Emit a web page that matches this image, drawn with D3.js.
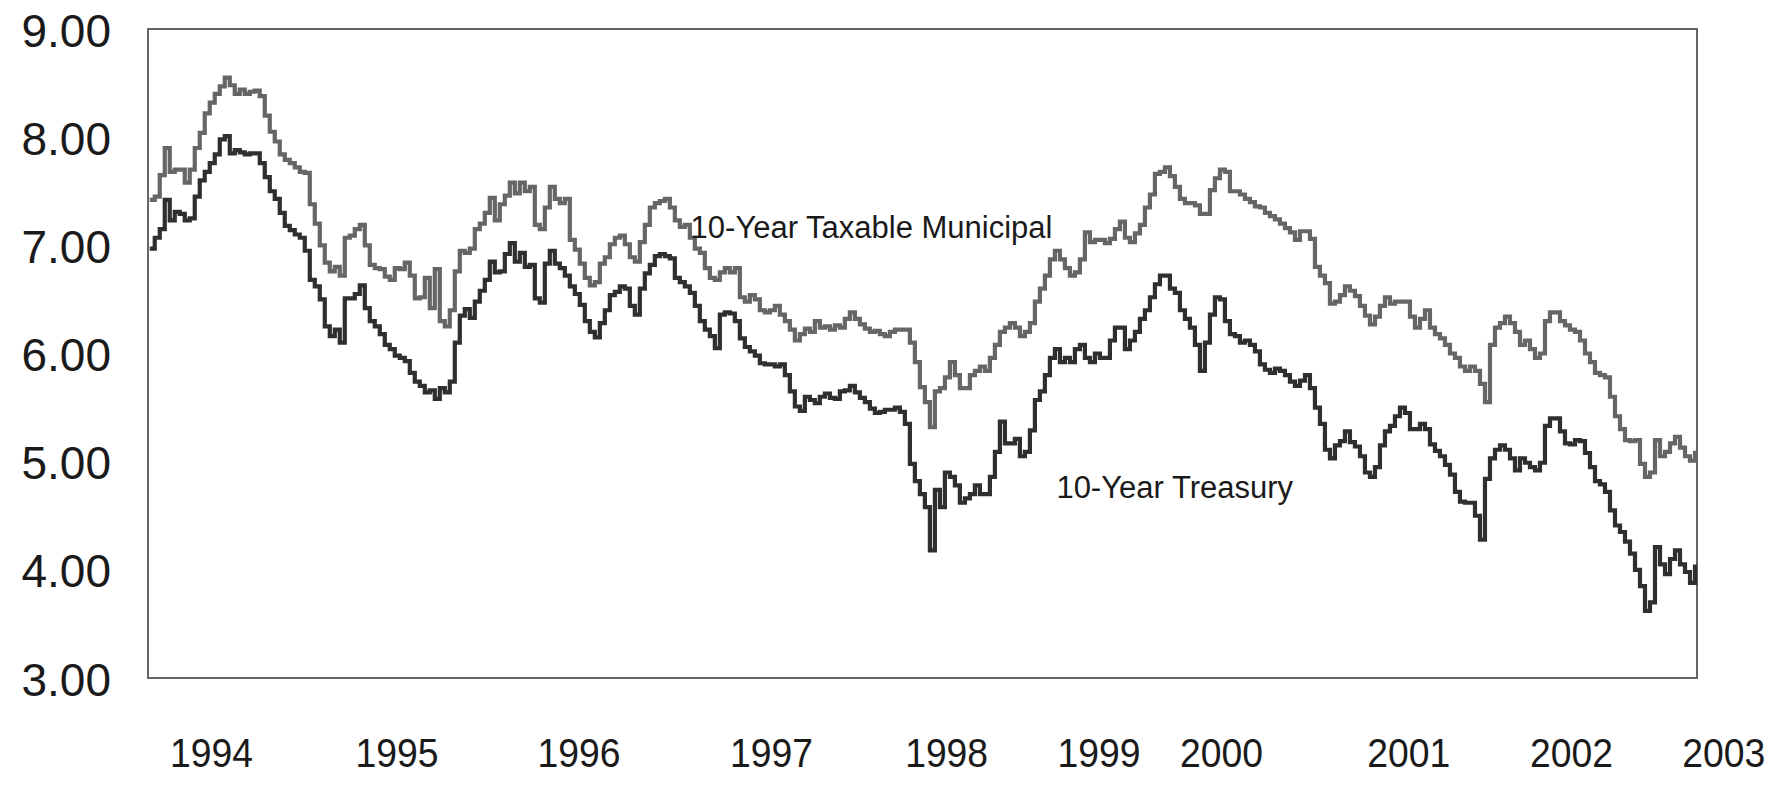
<!DOCTYPE html>
<html>
<head>
<meta charset="utf-8">
<script src="https://cdn.jsdelivr.net/npm/d3@7"></script>
<style>
  html, body { margin: 0; padding: 0; background: #fff; }
  svg { display: block; font-family: "Liberation Sans", Arial, sans-serif; }
</style>
</head>
<body>
<div id="chart"></div>
<script>
// samples run every 1/35 of a year starting from startYear
const startYear = 1994.30
const stepYears = 1 / 35

const muni = [
  7.42, 7.45, 7.65, 7.90, 7.68, 7.70, 7.70, 7.58, 7.70, 7.90,
  8.04, 8.22, 8.32, 8.40, 8.47, 8.55, 8.48, 8.40, 8.44, 8.40,
  8.42, 8.43, 8.38, 8.20, 8.05, 7.96, 7.84, 7.79, 7.76, 7.72,
  7.68, 7.67, 7.38, 7.20, 7.00, 6.84, 6.76, 6.80, 6.72, 7.07,
  7.09, 7.15, 7.19, 7.00, 6.82, 6.79, 6.78, 6.71, 6.68, 6.79,
  6.78, 6.84, 6.72, 6.51, 6.52, 6.70, 6.42, 6.78, 6.30, 6.25,
  6.40, 6.76, 6.95, 6.93, 6.97, 7.15, 7.20, 7.30, 7.44, 7.23,
  7.38, 7.46, 7.58, 7.48, 7.58, 7.50, 7.54, 7.19, 7.15,
  7.35, 7.54, 7.43, 7.39, 7.43, 7.05, 6.96, 6.83, 6.70, 6.63,
  6.66, 6.83, 6.89, 7.01, 7.07, 7.09, 7.01, 6.89, 6.85, 7.03,
  7.19, 7.35, 7.39, 7.41, 7.43, 7.35, 7.23, 7.17, 7.19, 7.07,
  6.97, 6.93, 6.79, 6.70, 6.68, 6.75, 6.79, 6.75, 6.79, 6.52,
  6.48, 6.54, 6.50, 6.40, 6.38, 6.40, 6.44, 6.36, 6.30, 6.22,
  6.12, 6.18, 6.23, 6.20, 6.30, 6.24, 6.25, 6.22, 6.26, 6.24,
  6.32, 6.38, 6.32, 6.27, 6.23, 6.20, 6.21, 6.18, 6.16, 6.20,
  6.22, 6.22, 6.22, 6.10, 5.92, 5.69, 5.55, 5.32,
  5.65, 5.68, 5.78, 5.92, 5.80, 5.68, 5.68, 5.80, 5.84, 5.88,
  5.84, 5.96, 6.08, 6.20, 6.24, 6.28, 6.24, 6.16, 6.20, 6.28,
  6.48, 6.60, 6.72, 6.87, 6.95, 6.87, 6.79, 6.72, 6.75, 6.87,
  7.12, 7.03, 7.05, 7.05, 7.02, 7.06, 7.15, 7.22, 7.07, 7.03,
  7.11, 7.19, 7.35, 7.47, 7.66, 7.68, 7.72, 7.64, 7.54, 7.43,
  7.39, 7.39, 7.37, 7.29, 7.29, 7.51, 7.62, 7.70, 7.68, 7.50,
  7.50, 7.47, 7.43, 7.40, 7.36, 7.35, 7.30, 7.27, 7.24, 7.20,
  7.16, 7.12, 7.05, 7.13, 7.13, 7.06, 6.80, 6.72,
  6.65, 6.46, 6.48, 6.54, 6.62, 6.58, 6.53, 6.44, 6.35, 6.27,
  6.34, 6.44, 6.52, 6.46, 6.48, 6.48, 6.48, 6.34, 6.24, 6.32,
  6.40, 6.24, 6.18, 6.14, 6.08, 6.00, 5.96, 5.88, 5.84, 5.88,
  5.84, 5.72, 5.55, 6.08, 6.24, 6.28, 6.34, 6.28, 6.20, 6.08,
  6.12, 6.04, 5.96, 6.00, 6.30, 6.38, 6.38, 6.30, 6.26, 6.22,
  6.20, 6.12, 6.00, 5.92, 5.82, 5.80, 5.78, 5.60, 5.42, 5.30,
  5.20, 5.19, 5.20, 4.98, 4.86, 4.90, 5.20, 5.05, 5.09, 5.17,
  5.23, 5.13, 5.05, 5.01, 5.10
]

const treasury = [
  6.97, 7.07, 7.15, 7.42, 7.23, 7.31, 7.29, 7.23, 7.25, 7.45,
  7.60, 7.68, 7.76, 7.84, 7.98, 8.01, 7.85, 7.88, 7.86, 7.84,
  7.85, 7.85, 7.76, 7.63, 7.50, 7.43, 7.30, 7.18, 7.14, 7.10,
  7.07, 6.95, 6.68, 6.62, 6.50, 6.25, 6.16, 6.22, 6.10, 6.51,
  6.51, 6.55, 6.63, 6.42, 6.30, 6.25, 6.18, 6.08, 6.04, 5.98,
  5.96, 5.93, 5.82, 5.74, 5.70, 5.64, 5.66, 5.58, 5.68, 5.64,
  5.74, 6.10, 6.35, 6.41, 6.33, 6.48, 6.58, 6.68, 6.85, 6.75,
  6.76, 6.92, 7.02, 6.85, 6.93, 6.80, 6.82, 6.51, 6.47,
  6.83, 6.95, 6.83, 6.79, 6.72, 6.62, 6.55, 6.45, 6.30, 6.20,
  6.15, 6.28, 6.40, 6.54, 6.57, 6.62, 6.60, 6.44, 6.36, 6.60,
  6.74, 6.82, 6.90, 6.92, 6.90, 6.88, 6.70, 6.66, 6.62, 6.56,
  6.44, 6.30, 6.22, 6.16, 6.05, 6.36, 6.38, 6.37, 6.30, 6.14,
  6.06, 6.02, 5.98, 5.91, 5.90, 5.90, 5.88, 5.90, 5.80, 5.65,
  5.51, 5.47, 5.60, 5.57, 5.54, 5.60, 5.63, 5.59, 5.58, 5.65,
  5.66, 5.70, 5.64, 5.59, 5.55, 5.49, 5.45, 5.46, 5.48, 5.48,
  5.50, 5.46, 5.35, 4.98, 4.82, 4.70, 4.58, 4.18,
  4.74, 4.58, 4.90, 4.86, 4.78, 4.62, 4.66, 4.70, 4.78, 4.70,
  4.70, 4.86, 5.09, 5.37, 5.17, 5.17, 5.21, 5.05, 5.09, 5.29,
  5.57, 5.65, 5.80, 5.96, 6.04, 5.92, 5.96, 5.92, 6.04, 6.08,
  5.96, 5.92, 6.00, 5.96, 5.96, 6.12, 6.24, 6.24, 6.04, 6.12,
  6.20, 6.32, 6.40, 6.52, 6.64, 6.72, 6.72, 6.60, 6.56, 6.40,
  6.32, 6.24, 6.08, 5.84, 6.10, 6.36, 6.52, 6.50, 6.30, 6.18,
  6.16, 6.10, 6.12, 6.08, 6.02, 5.90, 5.85, 5.82, 5.86, 5.84,
  5.80, 5.74, 5.70, 5.75, 5.80, 5.68, 5.50, 5.35,
  5.11, 5.03, 5.15, 5.19, 5.28, 5.18, 5.14, 5.05, 4.90, 4.86,
  4.95, 5.15, 5.28, 5.33, 5.42, 5.50, 5.45, 5.30, 5.30, 5.35,
  5.30, 5.16, 5.10, 5.05, 4.97, 4.88, 4.72, 4.63, 4.62, 4.62,
  4.50, 4.28, 4.84, 5.03, 5.11, 5.15, 5.11, 5.03, 4.92, 5.03,
  4.99, 4.95, 4.92, 4.99, 5.33, 5.40, 5.40, 5.28, 5.17, 5.16,
  5.20, 5.19, 5.08, 4.95, 4.82, 4.79, 4.72, 4.55, 4.41, 4.35,
  4.26, 4.15, 4.00, 3.85, 3.62, 3.70, 4.21, 4.05, 3.96, 4.10,
  4.18, 4.05, 3.98, 3.88, 4.05
]

const yTicks = [3, 4, 5, 6, 7, 8, 9]
const xTickLabels = ['1994', '1995', '1996', '1997', '1998', '1999', '2000', '2001', '2002', '2003']
const xTickAt = [1994.65, 1995.71, 1996.75, 1997.85, 1998.85, 1999.72, 2000.42, 2001.49, 2002.42, 2003.29]

const seriesNames = ['10-Year Taxable Municipal', '10-Year Treasury']
// where each series name sits, as [year, yield]
const seriesLabelAt = [[1997.39, 7.07], [1999.48, 4.66]]

const width = 1775, height = 809
const margin = { top: 29, right: 78, bottom: 131, left: 148 }

const svg = d3.select('#chart')
  .append('svg')
  .attr('width', width)
  .attr('height', height)

const x = d3.scaleLinear()
  .domain([1994.29, 2003.14])
  .range([margin.left, width - margin.right])

const y = d3.scaleLinear()
  .domain([3, 9])
  .range([height - margin.bottom, margin.top])

const dates = d3.range(muni.length).map(i => startYear + i * stepYears)

// frame
svg.append('rect')
  .attr('x', margin.left)
  .attr('y', margin.top)
  .attr('width', width - margin.left - margin.right)
  .attr('height', height - margin.top - margin.bottom)
  .attr('fill', 'none')
  .attr('stroke', '#666')
  .attr('stroke-width', 2)

const line = d3.line()
  .x((d, i) => x(dates[i]))
  .y(d => y(d))
  .curve(d3.curveStepAfter)

svg.append('path')
  .datum(muni)
  .attr('d', line)
  .attr('fill', 'none')
  .attr('stroke', '#666666')
  .attr('stroke-width', 4.2)

svg.append('path')
  .datum(treasury)
  .attr('d', line)
  .attr('fill', 'none')
  .attr('stroke', '#2f2f2f')
  .attr('stroke-width', 4.2)

// y axis labels
const yAxis = svg.append('g')
  .attr('transform', 'translate(' + margin.left + ',0)')
  .call(d3.axisLeft(y).tickValues(yTicks).tickFormat(d3.format('.2f')).tickSize(0).tickPadding(37))
yAxis.select('.domain').remove()
yAxis.selectAll('text')
  .attr('font-family', '"Liberation Sans", Arial, sans-serif')
  .attr('font-size', 46)
  .attr('fill', '#1a1a1a')
  .attr('dy', '0.37em')

// x axis labels, slightly condensed like the original
const xAxis = svg.append('g')
  .attr('transform', 'translate(0,' + (height - margin.bottom) + ')')
  .call(d3.axisBottom(x).tickValues(xTickAt).tickFormat((d, i) => xTickLabels[i]).tickSize(0).tickPadding(60))
xAxis.select('.domain').remove()
xAxis.selectAll('text')
  .attr('font-family', '"Liberation Sans", Arial, sans-serif')
  .attr('font-size', 41)
  .attr('fill', '#1a1a1a')
  .attr('transform', 'scale(0.91,1)')

// series names
svg.selectAll('text.series')
  .data(seriesNames)
  .enter()
  .append('text')
  .attr('class', 'series')
  .attr('x', (d, i) => x(seriesLabelAt[i][0]))
  .attr('y', (d, i) => y(seriesLabelAt[i][1]))
  .attr('font-size', 31)
  .attr('fill', '#1a1a1a')
  .text(d => d)
</script>
</body>
</html>
